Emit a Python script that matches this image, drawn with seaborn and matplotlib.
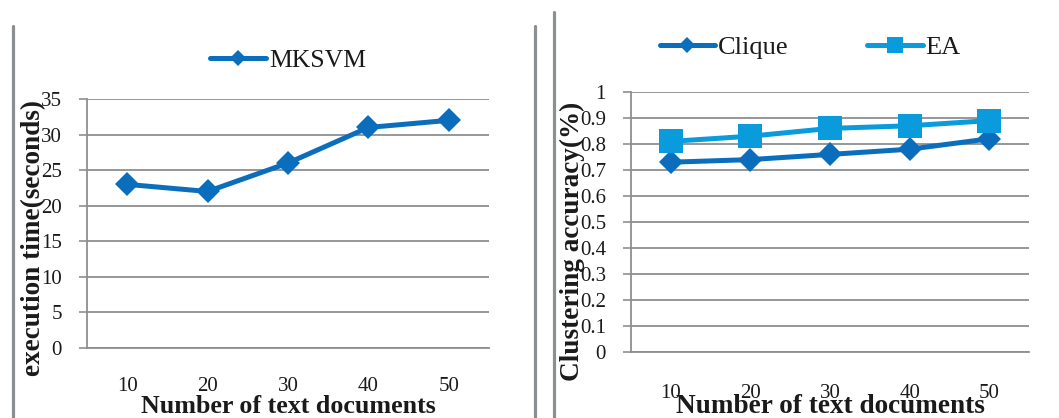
import matplotlib
matplotlib.use("Agg")
import matplotlib.pyplot as plt
from matplotlib.lines import Line2D
import seaborn as sns
import pandas as pd

# Data
doc_counts = ["10", "20", "30", "40", "50"]
mksvm_time = [23, 22, 26, 31, 32]
clique_acc = [0.73, 0.74, 0.76, 0.78, 0.82]
ea_acc = [0.81, 0.83, 0.86, 0.87, 0.89]
time_ticks = [0, 5, 10, 15, 20, 25, 30, 35]
acc_ticks = [0, 0.1, 0.2, 0.3, 0.4, 0.5, 0.6, 0.7, 0.8, 0.9, 1]
acc_tick_labels = ["0", "0.1", "0.2", "0.3", "0.4", "0.5", "0.6", "0.7", "0.8", "0.9", "1"]

sns.set_style("white")
plt.rcParams["font.family"] = ["Liberation Serif", "DejaVu Serif"]

DARK = "#0A6EBD"
LIGHT = "#0A9BDC"
GRAY = "#8C8F92"
TXT = "#1a1a1a"

W, H = 1059, 418
fig = plt.figure(figsize=(W / 100, H / 100), dpi=100)


def rect(x0, y0, x1, y1):
    return [x0 / W, 1 - y1 / H, (x1 - x0) / W, (y1 - y0) / H]


def style_axes(ax, n, ylim, yticks, ylabels, xpad):
    ax.set_xlim(-0.5, n - 0.5)
    ax.set_ylim(*ylim)
    ax.set_xticks(range(n))
    ax.set_xticklabels(doc_counts)
    ax.set_xticks([i - 0.5 for i in range(n + 1)], minor=True)
    ax.set_yticks(yticks)
    ax.set_yticklabels(ylabels)
    ax.tick_params(axis="x", which="major", length=0, pad=xpad,
                   labelsize=15, labelcolor=TXT)
    ax.tick_params(axis="x", which="minor", length=6, width=1.2,
                   color=GRAY, direction="out")
    ax.tick_params(axis="y", length=6, width=1.2, color=GRAY,
                   pad=12, labelsize=15, labelcolor=TXT, left=True)
    ax.yaxis.grid(True, color=GRAY, linewidth=1.3)
    ax.xaxis.grid(False)
    for side in ("top", "right"):
        ax.spines[side].set_visible(False)
    for side in ("left", "bottom"):
        ax.spines[side].set_color(GRAY)
        ax.spines[side].set_linewidth(1.3)
    ax.set_axisbelow(True)


# Left panel: execution time
ax1 = fig.add_axes(rect(87, 99, 489, 348))
pos = list(range(len(doc_counts)))
df1 = pd.DataFrame({"pos": pos, "time": mksvm_time})
sns.lineplot(data=df1, x="pos", y="time", ax=ax1, color=DARK, linewidth=3.6,
             marker="D", markersize=12.5, markeredgewidth=0, label="MKSVM",
             sort=False)
style_axes(ax1, len(doc_counts), (0, 35), time_ticks,
           [str(t) for t in time_ticks], 21)
ax1.set_xlabel("Number of text documents", fontsize=18.7, fontweight="bold",
               color=TXT, va="baseline")
ax1.xaxis.set_label_coords(0.5, -0.261)
ax1.set_ylabel("execution time(seconds)", fontsize=19.6, fontweight="bold",
               color=TXT, va="center")
ax1.yaxis.set_label_coords(-0.132, 0.44)
leg1 = ax1.legend(loc="center", bbox_to_anchor=(0.5, 1.153), frameon=False,
                  fontsize=18.5, handlelength=2.2, handletextpad=0.1,
                  borderaxespad=0)
for h in leg1.legend_handles:
    h.set_markersize(8.5)
for t in leg1.get_texts():
    t.set_color(TXT)

# Right panel: clustering accuracy
ax2 = fig.add_axes(rect(631, 92, 1029, 352))
df2 = pd.DataFrame({"pos": pos * 2,
                    "acc": clique_acc + ea_acc,
                    "method": ["Clique"] * len(pos) + ["EA"] * len(pos)})
sns.lineplot(data=df2[df2.method == "Clique"], x="pos", y="acc", ax=ax2,
             color=DARK, linewidth=3.6, marker="D", markersize=12.5,
             markeredgewidth=0, label="Clique", sort=False)
sns.lineplot(data=df2[df2.method == "EA"], x="pos", y="acc", ax=ax2,
             color=LIGHT, linewidth=3.6, marker="s", markersize=17,
             markeredgewidth=0, label="EA", sort=False)
style_axes(ax2, len(doc_counts), (0, 1), acc_ticks, acc_tick_labels, 23)
ax2.set_xlabel("Number of text documents", fontsize=19.6, fontweight="bold",
               color=TXT, va="baseline")
ax2.xaxis.set_label_coords(0.5, -0.235)
ax2.set_ylabel("Clustering accuracy(%)", fontsize=19.6, fontweight="bold",
               color=TXT, va="center")
ax2.yaxis.set_label_coords(-0.146, 0.427)
leg2 = ax2.legend(loc="center", bbox_to_anchor=(0.45, 1.173), frameon=False,
                  ncol=2, fontsize=19, handlelength=2.1, handletextpad=0.1,
                  columnspacing=3.0, borderaxespad=0)
for h, ms in zip(leg2.legend_handles, (8.5, 12)):
    h.set_markersize(ms)
for t in leg2.get_texts():
    t.set_color(TXT)

# Panel divider rules
for x, y_top in ((13, 26), (535, 26), (554, 12)):
    fig.add_artist(Line2D([x / W, x / W], [0, 1 - y_top / H], color=GRAY,
                          linewidth=2.3, transform=fig.transFigure))

fig.savefig("out.png", dpi=100, facecolor="white")
